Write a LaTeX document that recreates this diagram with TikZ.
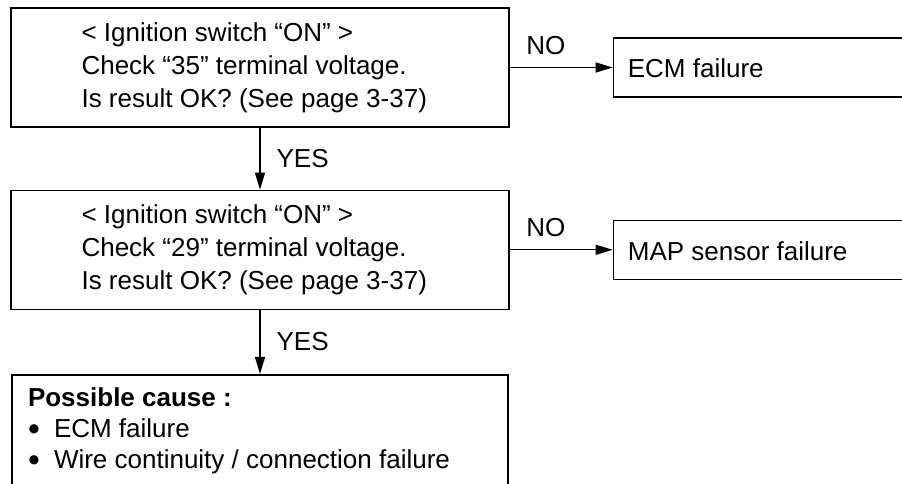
\documentclass[tikz,border=0pt]{standalone}
\usepackage{fontspec}
\setmainfont{Liberation Sans}
\usepackage{tikz}
\usetikzlibrary{arrows.meta,positioning}
\newcommand{\blt}{\makebox[26pt][l]{\raisebox{-3pt}{\scalebox{1.3}{•}}}}

\begin{document}
\begin{tikzpicture}[x=1pt,y=-1pt,
    font=\fontsize{26}{33}\selectfont,
    chk/.style={draw,line width=1.3pt,minimum width=498pt,minimum height=119pt,inner sep=0pt},
    res/.style={draw,line width=1.3pt,minimum width=360pt,minimum height=59pt,inner sep=0pt},
    cause/.style={draw,line width=2.4pt,minimum width=496pt,minimum height=140pt,inner sep=0pt},
    txt/.style={anchor=west,align=left,inner sep=0pt},
    lbl/.style={inner sep=0pt},
    >={Triangle[length=17pt,width=10pt]}]
  \useasboundingbox (0,0) rectangle (902,484);
  \clip (0,0) rectangle (902,484);
  \node[chk] (Q1) at (260,67.5) {};
  \node[chk, below=62pt of Q1] (Q2) {};
  \node[cause, below=64pt of Q2] (C) {};
  \node[res, right=103pt of Q1] (ECM) {};
  \node[res, right=103pt of Q2] (MAP) {};
  % texts
  \node[txt] (Q1t) at ([xshift=71pt]Q1.west) {< Ignition switch “ON” >\\Check “35” terminal voltage.\\Is result OK? (See page 3-37)};
  \node[txt] (Q2t) at ([xshift=71pt]Q2.west) {< Ignition switch “ON” >\\Check “29” terminal voltage.\\Is result OK? (See page 3-37)};
  \node[txt] (ECMt) at ([xshift=15pt,yshift=-1pt]ECM.west) {ECM failure};
  \node[txt,anchor=north west,font=\fontsize{26}{31}\selectfont] (Ct) at ([xshift=17pt,yshift=-14pt]C.north west)
    {\textbf{Possible cause :}\\\blt ECM failure\\\blt Wire continuity / connection failure};
  \node[txt] (MAPt) at ([xshift=15pt,yshift=-1pt]MAP.west) {MAP sensor failure};
  % connectors
  \draw[->,line width=1.3pt] (Q1) -- node[lbl,anchor=west,xshift=16pt]{YES} (Q2);
  \draw[->,line width=1.3pt] (Q2.south) -- node[lbl,anchor=west,xshift=16pt]{YES} (Q2.south |- C.north);
  \draw[->,line width=1.3pt] (Q1) -- node[lbl,pos=0,anchor=south west,xshift=16pt,yshift=12pt]{NO} (ECM);
  \draw[->,line width=1.3pt] (Q2) -- node[lbl,pos=0,anchor=south west,xshift=16pt,yshift=12pt]{NO} (MAP);
\end{tikzpicture}
\end{document}
